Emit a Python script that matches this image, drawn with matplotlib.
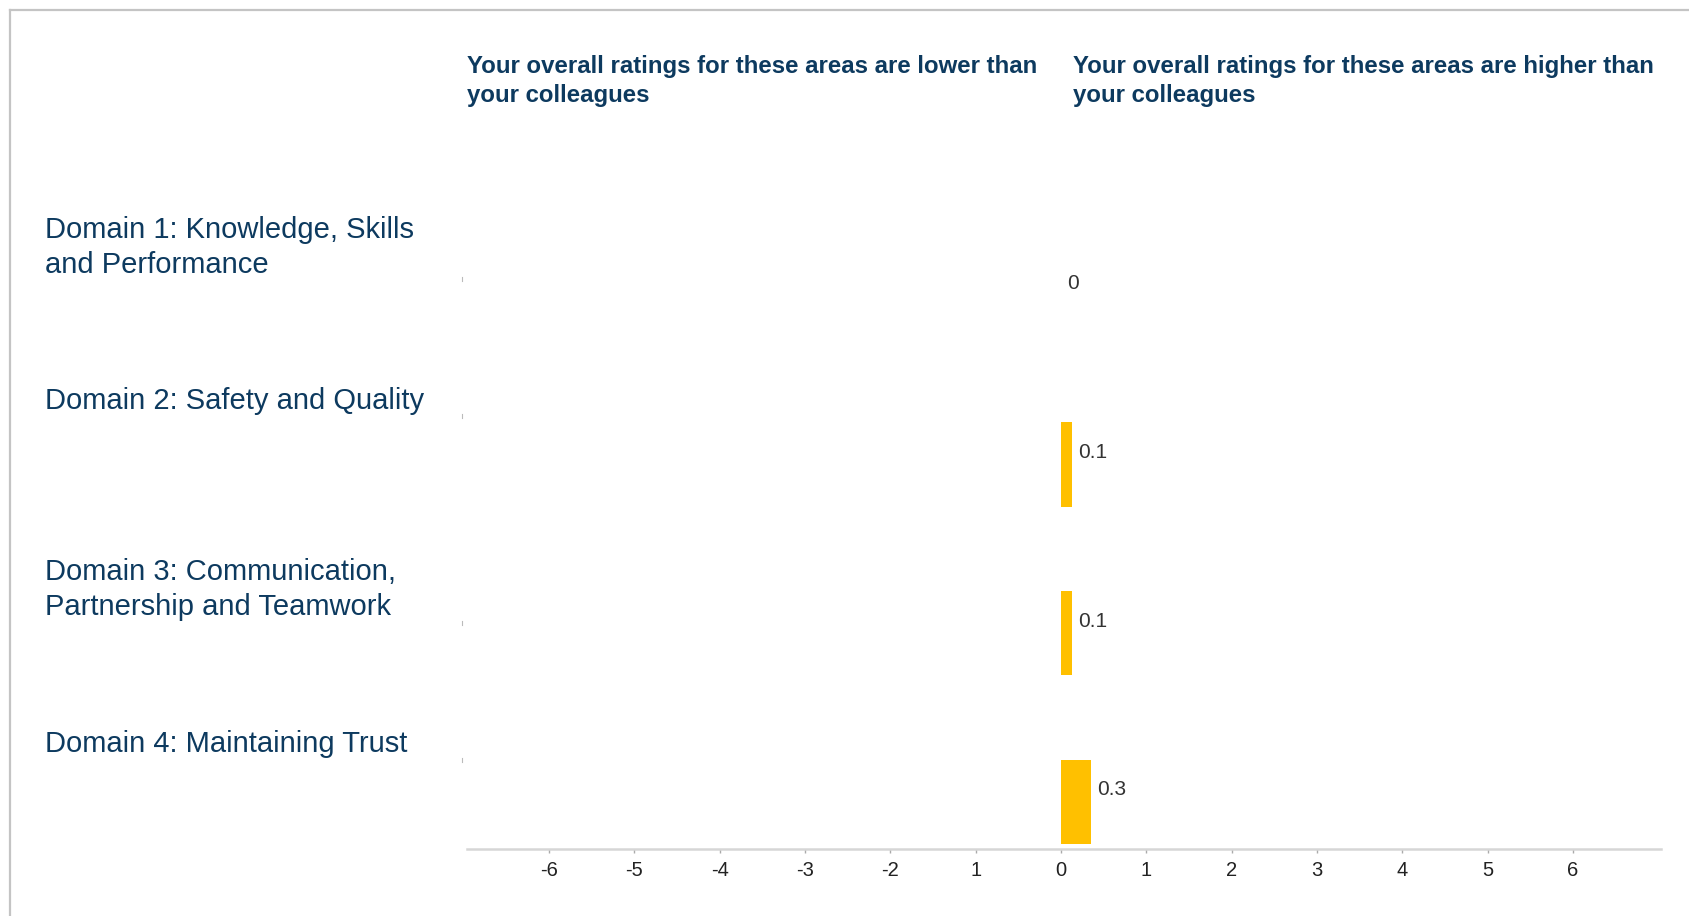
import numpy as np
import matplotlib.pyplot as plt
from matplotlib.lines import Line2D

# data
domains = [
    "Domain 1: Knowledge, Skills\nand Performance",
    "Domain 2: Safety and Quality",
    "Domain 3: Communication,\nPartnership and Teamwork",
    "Domain 4: Maintaining Trust",
]
differences = [0.0, 0.13, 0.13, 0.35]
value_labels = ["0", "0.1", "0.1", "0.3"]
tick_values = [-6, -5, -4, -3, -2, -1, 0, 1, 2, 3, 4, 5, 6]
tick_labels = ["-6", "-5", "-4", "-3", "-2", "1", "0", "1", "2", "3", "4", "5", "6"]
header_lower = "Your overall ratings for these areas are lower than\nyour colleagues"
header_higher = "Your overall ratings for these areas are higher than\nyour colleagues"

W, H = 1690, 916
NAVY = "#0d3a5f"
BAR = "#ffc000"

plt.rcParams["font.family"] = ["Liberation Sans", "DejaVu Sans"]

fig = plt.figure(figsize=(W / 100, H / 100), dpi=100)
fig.patch.set_facecolor("white")


def fx(px):
    return px / W


def fy(py):
    return 1 - py / H


# outer frame (top and left edges only)
fig.add_artist(Line2D([fx(10), 1], [fy(10), fy(10)], color="#c4c4c4", lw=1.6))
fig.add_artist(Line2D([fx(10), fx(10)], [fy(10), 0], color="#c4c4c4", lw=1.6))

ax = fig.add_axes([fx(467), fy(849), fx(1661) - fx(467), fy(140) - fy(849)])
ypos = np.arange(len(domains))
ax.barh(ypos, differences, height=0.5, color=BAR, linewidth=0)

for y, v, lab in zip(ypos, differences, value_labels):
    ax.annotate(lab, xy=(max(v, 0), y), xytext=(6, 12), textcoords="offset pixels",
                ha="left", va="center", fontsize=15, color="#333333")

ax.set_xlim(-6.96, 7.03)
ax.set_ylim(3.28, -0.925)
ax.set_xticks(tick_values)
ax.set_xticklabels(tick_labels, fontsize=14.5, color="#222222")
ax.set_yticks([])
ax.tick_params(axis="x", length=3, width=1, color="#aaaaaa", pad=6)
for s in ["top", "right", "left"]:
    ax.spines[s].set_visible(False)
ax.spines["bottom"].set_color("#d6d6d6")
ax.spines["bottom"].set_linewidth(1.8)

# category labels
label_tops = [216, 387, 558, 730]
for lab, top in zip(domains, label_tops):
    fig.text(fx(45), fy(top), lab, ha="left", va="top", fontsize=21,
             color=NAVY, linespacing=1.3)

# small marks left of the plot area
for py in [279, 416, 623, 760]:
    fig.add_artist(Line2D([fx(462), fx(462)], [fy(py - 2), fy(py + 2)], color="#bbbbbb", lw=0.8))

# headers
fig.text(fx(467), fy(55), header_lower, ha="left", va="top", fontsize=17.3,
         fontweight="bold", color=NAVY, linespacing=1.31)
fig.text(fx(1073), fy(55), header_higher, ha="left", va="top", fontsize=17.3,
         fontweight="bold", color=NAVY, linespacing=1.31)

fig.savefig("out.png", dpi=100, facecolor="white")
